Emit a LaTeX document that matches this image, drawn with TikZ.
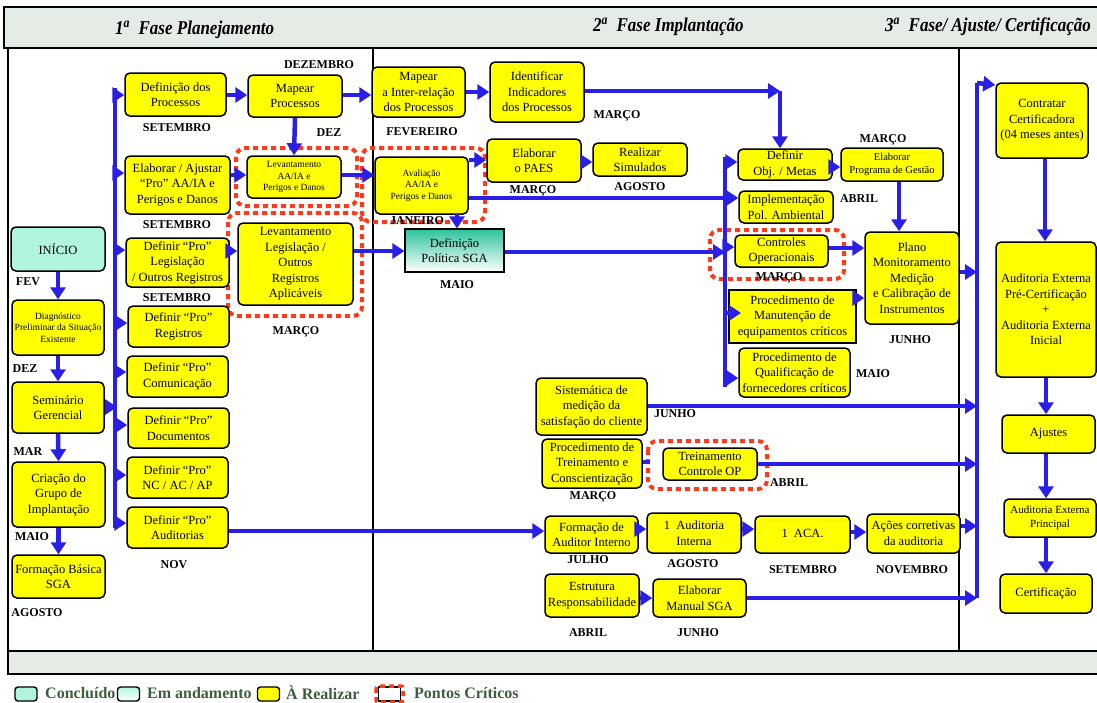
\documentclass[tikz,border=0pt]{standalone}
\usepackage{fontspec}
\setmainfont{Liberation Serif}
\usetikzlibrary{arrows.meta,shadings}
\definecolor{ylw}{HTML}{FFFF00}
\definecolor{arblue}{HTML}{2A1FE6}
\definecolor{mint}{HTML}{B2F5DF}
\definecolor{hdr}{HTML}{E5EBE5}
\definecolor{critred}{HTML}{FF3A1A}
\definecolor{polteal}{HTML}{2CC39C}
\definecolor{legtext}{HTML}{3A5F3A}
\definecolor{fainty}{HTML}{F4F4C8}
\newcommand\faintA{\raisebox{-3pt}{\textcolor{fainty}{\fontsize{7}{7}\selectfont a}}}
\tikzset{
  wh/.style 2 args={minimum width=#1pt, minimum height=#2pt},
  box/.style={draw=black, line width=1.5pt, rounded corners=5pt, fill=ylw, inner sep=0pt, align=center, font=\fontsize{12.5}{15.5}\selectfont},
  sbox/.style={box, font=\fontsize{9.5}{11.3}\selectfont},
  pol/.style={draw=black, line width=1.2pt, top color=polteal, bottom color=white, inner sep=0pt, align=center, font=\fontsize{12.5}{15.5}\selectfont},
  arr/.style={draw=arblue, line width=4.5pt, -{Triangle[length=12pt,width=15pt]}},
  ln/.style={draw=arblue, line width=4.5pt},
  crit/.style={draw=critred, line width=4pt, dash pattern=on 5pt off 4pt, rounded corners=9pt},
  mon/.style={font=\bfseries\fontsize{12}{12}\selectfont, inner sep=0pt},
  frame/.style={draw=black, line width=1.6pt},
  hdtxt/.style={font=\bfseries\itshape\fontsize{17}{17}\selectfont, inner sep=0pt, anchor=west},
  legbox/.style={draw=black, line width=1.4pt, rounded corners=3pt, minimum width=22pt, minimum height=14pt, inner sep=0pt},
  legtxt/.style={font=\bfseries\fontsize{16}{16}\selectfont, text=legtext, inner sep=0pt, anchor=west},
}
\begin{document}
\begin{tikzpicture}[x=1pt,y=-1pt]
\useasboundingbox (0,0) rectangle (1097,702);
% frame
\draw[frame, fill=hdr] (4,7) rectangle (1110,48);
\draw[frame] (8,48) -- (8,651);
\draw[frame] (373,48) -- (373,651);
\draw[frame] (959,48) -- (959,651);
\draw[frame, fill=hdr] (8,651) rectangle (1110,674);
\node[hdtxt] (h1) at (115,30) {\scalebox{1}[1.15]{1\textsuperscript{a}\ \ Fase Planejamento}};
\node[hdtxt] (h2) at (593,27) {\scalebox{1}[1.15]{2\textsuperscript{a}\ \ Fase Implantação}};
\node[hdtxt] (h3) at (885,27) {\scalebox{1}[1.15]{3\textsuperscript{a}\ \ Fase/ Ajuste/ Certificação}};

% critical dotted regions
\draw[crit] (236,148) rectangle (357,206);
\draw[crit] (228,213) rectangle (362,316);
\draw[crit] (362,148) rectangle (485,222);
\draw[crit] (710,230) rectangle (844,279);
\draw[crit] (648,441) rectangle (767,489);

% boxes
\node[box, wh={101}{43}] (defproc) at (175.5,94.5) {Definição dos\\Processos};
\node[box, wh={94}{42}] (mapproc) at (295,96) {Mapear\\Processos};
\node[box, wh={105}{58}] (elab) at (177.5,185) {Elaborar / Ajustar\\“Pro” AA/IA e\\Perigos e Danos};
\node[sbox, wh={94}{42}] (levaa) at (294,177) {Levantamento\\AA/IA e\\Perigos e Danos};
\node[box, wh={103}{49}] (deflegis) at (177.5,262.5) {Definir “Pro”\\Legislação\\/ Outros Registros};
\node[box, wh={115}{82}] (levleg) at (295.5,264) {Levantamento\\Legislação /\\Outros\\Registros\\Aplicáveis};
\node[box, fill=mint, wh={94}{44}] (inicio) at (58,249) {INÍCIO};
\node[sbox, wh={92}{55}] (diag) at (58,327.5) {Diagnóstico\\Preliminar da Situação\\Existente};
\node[box, wh={92}{51}] (semin) at (58,407.5) {Seminário\\Gerencial};
\node[box, wh={93}{65}] (criacao) at (58.5,494.5) {Criação do\\Grupo de\\Implantação};
\node[box, wh={93}{43}] (formbas) at (58.5,576.5) {Formação Básica\\SGA};
\node[box, wh={101}{41}] (defreg) at (178.5,326.5) {Definir “Pro”\\Registros};
\node[box, wh={101}{41}] (defcom) at (177.5,376.5) {Definir “Pro”\\Comunicação};
\node[box, wh={101}{40}] (defdoc) at (178.5,428) {Definir “Pro”\\Documentos};
\node[box, wh={101}{41}] (defnc) at (177.5,477.5) {Definir “Pro”\\NC / AC / AP};
\node[box, wh={101}{41}] (defaud) at (177.5,527.5) {Definir “Pro”\\Auditorias};
\node[box, wh={93}{50}] (mapinter) at (418.5,92) {Mapear\\a Inter-relação\\dos Processos};
\node[box, wh={94}{60}] (ident) at (537,92) {Identificar\\Indicadores\\dos Processos};
\node[sbox, wh={93}{57}] (aval) at (421.5,185.5) {Avaliação\\AA/IA e\\Perigos e Danos};
\node[box, wh={94}{43}] (paes) at (534,160.5) {Elaborar\\o PAES};
\node[box, wh={94}{33}] (simul) at (640,159.5) {Realizar\\Simulados};
\node[pol, wh={99}{43}] (politica) at (454.5,250.5) {Definição\\Política SGA};
\node[box, wh={94}{31}] (defobj) at (785,164.5) {Definir\\Obj. / Metas};
\node[box, wh={102}{33}, font=\fontsize{10.5}{12.5}\selectfont] (progges) at (892,164.5) {Elaborar\\Programa de Gestão};
\node[box, wh={94}{32}] (implpol) at (786,207) {Implementação\\Pol. Ambiental};
\node[box, wh={93}{32}] (controles) at (781.5,251) {Controles\\Operacionais};
\node[box, wh={94}{92}] (plano) at (912,278) {Plano\\Monitoramento\\Medição\\e Calibração de\\Instrumentos};
\node[box, wh={111}{49}] (qualif) at (794.5,372.5) {Procedimento de\\Qualificação de\\fornecedores críticos};
\node[box, wh={92}{75}] (contratar) at (1042,120.5) {Contratar\\Certificadora\\(04 meses antes)};
\node[box, wh={100}{135}] (audext) at (1046,309.5) {Auditoria Externa\\Pré-Certificação\\+\\Auditoria Externa\\Inicial};
\node[box, wh={93}{38}] (ajustes) at (1048.5,434) {Ajustes};
\node[box, wh={92}{38}, font=\fontsize{11}{14}\selectfont] (audprinc) at (1050,518) {Auditoria Externa\\Principal};
\node[box, wh={92}{39}] (certif) at (1046,593.5) {Certificação};
\node[box, wh={111}{57}] (sistem) at (591.5,406.5) {Sistemática de\\medição da\\satisfação do cliente};
\node[box, wh={100}{49}] (proctrein) at (592,463.5) {Procedimento de\\Treinamento e\\Conscientização};
\node[box, wh={94}{32}] (treinop) at (710,464) {Treinamento\\Controle OP};
\node[box, wh={93}{37}] (formaud) at (591.5,534.5) {Formação de\\Auditor Interno};
\node[box, wh={94}{40}] (audint) at (694,533) {1\faintA\ Auditoria\\Interna};
\node[box, wh={95}{37}] (aca) at (802.5,534.5) {\raisebox{3pt}{1\faintA\ ACA.}};
\node[box, wh={93}{39}] (acoes) at (913.5,533.5) {Ações corretivas\\da auditoria};
\node[box, wh={94}{43}] (estrut) at (592,595.5) {Estrutura\\Responsabilidade};
\node[box, wh={93}{38}] (manual) at (699.5,598) {Elaborar\\Manual SGA};

% month labels
\node[mon] (m1) at (319,65) {DEZEMBRO};
\node[mon] (m2) at (177,128) {SETEMBRO};
\node[mon] (m3) at (329,133) {DEZ};
\node[mon] (m4) at (177,225) {SETEMBRO};
\node[mon] (m5) at (177,298) {SETEMBRO};
\node[mon] (m6) at (296,332) {MARÇO};
\node[mon] (m7) at (28,282) {FEV};
\node[mon] (m8) at (25,369) {DEZ};
\node[mon] (m9) at (28,452) {MAR};
\node[mon] (m10) at (32,537) {MAIO};
\node[mon] (m11) at (37,613) {AGOSTO};
\node[mon] (m12) at (174,565) {NOV};
\node[mon] (m13) at (422,132) {FEVEREIRO};
\node[mon] (m14) at (617,116) {MARÇO};
\node[mon] (m15) at (417,221) {JANEIRO};
\node[mon] (m16) at (533,191) {MARÇO};
\node[mon] (m17) at (640,187) {AGOSTO};
\node[mon] (m18) at (457,285) {MAIO};
\node[mon] (m19) at (883,140) {MARÇO};
\node[mon] (m20) at (859,199) {ABRIL};
\node[mon] (m21) at (779,278) {MARÇO};
\node[mon] (m22) at (910,340) {JUNHO};
\node[mon] (m23) at (873,374) {MAIO};
\node[mon] (m24) at (675,414) {JUNHO};
\node[mon] (m25) at (593,497) {MARÇO};
\node[mon] (m26) at (789,483) {ABRIL};
\node[mon] (m27) at (588,560) {JULHO};
\node[mon] (m28) at (693,564) {AGOSTO};
\node[mon] (m29) at (803,570) {SETEMBRO};
\node[mon] (m30) at (912,570) {NOVEMBRO};
\node[mon] (m31) at (588,633) {ABRIL};
\node[mon] (m32) at (698,633) {JUNHO};

% buses
\coordinate (busL) at (115,0);
\coordinate (busM) at (725,0);
\coordinate (busR) at (977,0);
\coordinate (c1) at (780,91);
\draw[ln] (115,88) -- (115,528);
\draw[ln] (725,157) -- (725,387);
\draw[ln] (977,83) -- (977,598);

% left bus arrows
\draw[arr] (busL |- 0,95) -- (defproc.west |- 0,95);
\draw[arr] (busL |- 0,173) -- (elab.west |- 0,173);
\draw[arr] (busL |- 0,250) -- (deflegis.west |- 0,250);
\draw[arr] (busL |- 0,323) -- (defreg.west |- 0,323);
\draw[arr] (busL |- 0,372) -- (defcom.west |- 0,372);
\draw[arr] (busL |- 0,425) -- (defdoc.west |- 0,425);
\draw[arr] (busL |- 0,475) -- (defnc.west |- 0,475);
\draw[arr] (busL |- 0,523) -- (defaud.west |- 0,523);
\draw[arr] (semin.east |- 0,407) -- (117,407);

% left column
\draw[arr] (inicio.south) -- (diag.north);
\draw[arr] (diag.south) -- (semin.north);
\draw[arr] (semin.south) -- (criacao.north);
\draw[arr] (criacao.south) -- (formbas.north);

% phase 1 flow
\draw[arr] (defproc.east |- 0,95) -- (mapproc.west |- 0,95);
\draw[arr] (mapproc.east |- 0,95) -- (mapinter.west |- 0,95);
\draw[arr] (mapproc.south) -- (levaa.north);
\draw[arr] (elab.east |- 0,175) -- (levaa.west |- 0,175);
\draw[arr] (deflegis.east |- 0,251) -- (levleg.west |- 0,251);
\draw[arr] (levaa.east |- 0,175) -- (aval.west |- 0,175);
\draw[arr] (levleg.east |- 0,251) -- (politica.west |- 0,251);

% phase 2 flow
\draw[arr] (mapinter.east |- 0,92) -- (ident.west |- 0,92);
\draw[arr] (ident.east |- c1) -- (c1);
\draw[arr] (c1) -- (c1 |- defobj.north);
\draw[arr] (aval.east |- 0,160) -- (paes.west |- 0,160);
\draw[arr] (paes.east |- 0,162) -- (simul.west |- 0,162);
\draw[arr] (aval.east |- 0,198) -- (implpol.west |- 0,198);
\draw[arr] (457,214) -- (politica.north -| 457,0);
\draw[arr] (politica.east |- 0,252) -- (busM |- 0,252);
\draw[arr] (busM |- 0,162) -- (defobj.west |- 0,162);
\draw[arr] (busM |- 0,247) -- (controles.west |- 0,247);
\draw[arr] (busM |- 0,378) -- (qualif.west |- 0,378);
\draw[arr] (defobj.east |- 0,167) -- (progges.west |- 0,167);
\draw[arr] (progges.south -| 899,0) -- (plano.north -| 899,0);
\draw[arr] (controles.east |- 0,248) -- (plano.west |- 0,248);
\draw[arr] (plano.east |- 0,272) -- (busR |- 0,272);
\draw[arr] (sistem.east |- 0,406) -- (busR |- 0,406);
\draw[ln] (proctrein.east |- 0,462) -- (650,462);
\draw[arr] (treinop.east |- 0,464) -- (busR |- 0,464);
\draw[arr] (defaud.east |- 0,531) -- (formaud.west |- 0,531);
\draw[arr] (formaud.east |- 0,529) -- (audint.west |- 0,529);
\draw[arr] (audint.east |- 0,529) -- (aca.west |- 0,529);
\draw[arr] (aca.east |- 0,532) -- (acoes.west |- 0,532);
\draw[arr] (acoes.east |- 0,526) -- (busR |- 0,526);
\draw[arr] (estrut.east |- 0,598) -- (manual.west |- 0,598);
\draw[arr] (manual.east |- 0,598) -- (busR |- 0,598);

% phase 3 flow
\draw[arr] (busR |- 0,83) -- (contratar.west |- 0,85);
\draw[arr] (contratar.south -| 1045,0) -- (audext.north -| 1045,0);
\draw[arr] (audext.south -| 1046,0) -- (ajustes.north -| 1046,0);
\draw[arr] (ajustes.south -| 1046,0) -- (audprinc.north -| 1046,0);
\draw[arr] (audprinc.south -| 1046,0) -- (certif.north -| 1046,0);

% box over the middle bus, then its arrows
\node[box, sharp corners, wh={127}{53}] (manut) at (792.5,316.5) {Procedimento de\\Manutenção de\\equipamentos críticos};
\draw[arr] (busM |- 0,313) -- (741,313);
\draw[arr] (manut.east |- 0,298) -- (plano.west |- 0,298);

% legend
\node[legbox, fill=mint] (lg1) at (26,694) {};
\node[legtxt] (lt1) at (45,693) {Concluído};
\node[legbox, top color=mint, bottom color=white] (lg2) at (128.5,694) {};
\node[legtxt] (lt2) at (147,693) {Em andamento};
\node[legbox, fill=ylw] (lg3) at (268.5,694) {};
\node[legtxt] (lt3) at (286,693) {À Realizar};
\node[legbox, fill=white, rounded corners=0pt] (lg4) at (389.5,694) {};
\draw[crit, rounded corners=2pt, line width=3.5pt] (376,686) rectangle (403,702);
\node[legtxt] (lt4) at (414,693) {Pontos Críticos};
\end{tikzpicture}
\end{document}
